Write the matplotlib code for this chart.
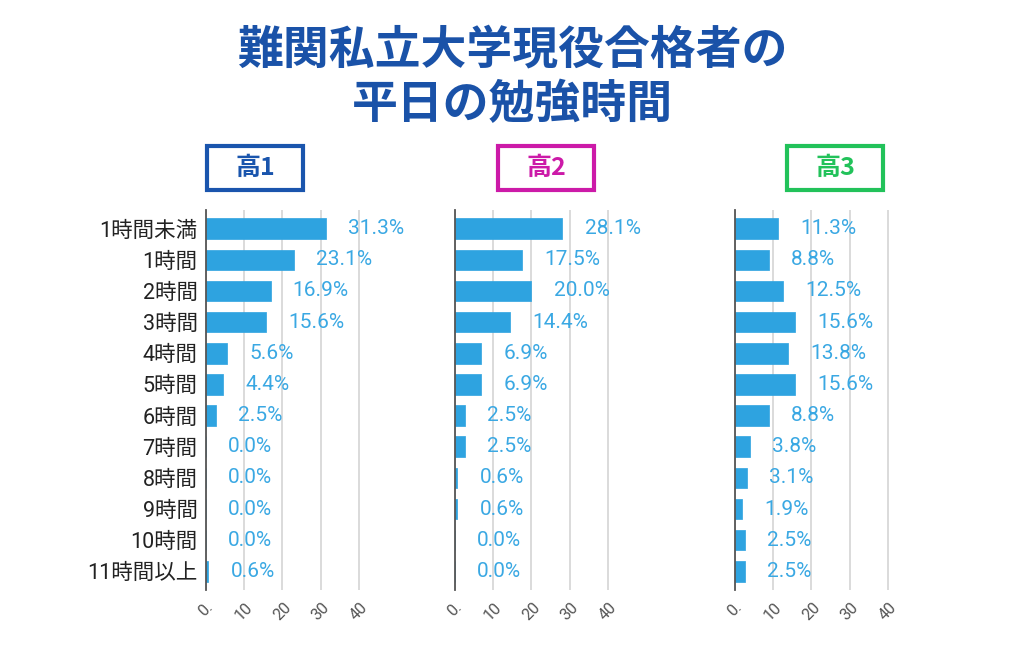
import matplotlib.pyplot as plt
from matplotlib.patches import Rectangle

plt.rcParams['font.family'] = ['Roboto', 'Noto Sans CJK JP', 'DejaVu Sans']

# data
categories = ['1時間未満', '1時間', '2時間', '3時間', '4時間', '5時間',
              '6時間', '7時間', '8時間', '9時間', '10時間', '11時間以上']
grade1 = [31.3, 23.1, 16.9, 15.6, 5.6, 4.4, 2.5, 0.0, 0.0, 0.0, 0.0, 0.6]
grade2 = [28.1, 17.5, 20.0, 14.4, 6.9, 6.9, 2.5, 2.5, 0.6, 0.6, 0.0, 0.0]
grade3 = [11.3, 8.8, 12.5, 15.6, 13.8, 15.6, 8.8, 3.8, 3.1, 1.9, 2.5, 2.5]
panel_titles = ['高1', '高2', '高3']
panel_colors = ['#1a55ad', '#cc1aa8', '#22c25a']
x_ticks = [0, 10, 20, 30, 40]
x_ticklabels = ['0.', '10', '20', '30', '40']

bar_color = '#2ea3e0'
label_color = '#3aa8e3'
title_color = '#1a52a8'

W, H = 1024, 666
fig = plt.figure(figsize=(W / 100, H / 100), dpi=100)

fig.text(0.5, 1 - 50 / H, '難関私立大学現役合格者の', ha='center', va='center',
         fontsize=33, fontweight='bold', color=title_color,
         family=['Noto Sans CJK JP'])
fig.text(0.5, 1 - 105 / H, '平日の勉強時間', ha='center', va='center',
         fontsize=33, fontweight='bold', color=title_color,
         family=['Noto Sans CJK JP'])

lefts = [206, 455, 735]
box_lefts = [207, 498, 787]
data = [grade1, grade2, grade3]
top, bottom = 210, 590
pw = 154

for i in range(3):
    ax = fig.add_axes([lefts[i] / W, 1 - bottom / H, pw / W, (bottom - top) / H])
    y = list(range(len(categories)))
    ax.barh(y, data[i], height=0.66, color=bar_color, edgecolor=bar_color,
            linewidth=0.5, joinstyle='round', zorder=3)
    for yy, v in zip(y, data[i]):
        ax.annotate(f'{v:.1f}%', xy=(v, yy), xytext=(16, 0),
                    textcoords='offset points', ha='left', va='center',
                    fontsize=15, color=label_color, annotation_clip=False)
    ax.set_xlim(0, 40.3)
    ax.set_ylim(11.6, -0.6)
    ax.set_xticks(x_ticks)
    ax.set_xticklabels(x_ticklabels, rotation=45, ha='center', va='top',
                       color='#555555', fontsize=11.5)
    ax.tick_params(axis='x', length=0, pad=7)
    ax.grid(axis='x', color='#d4d4d4', linewidth=1.2, zorder=0)
    for s in ['top', 'right', 'bottom']:
        ax.spines[s].set_visible(False)
    ax.spines['left'].set_color('#555555')
    ax.spines['left'].set_linewidth(1.3)
    ax.spines['left'].set_zorder(4)
    ax.set_yticks(y)
    if i == 0:
        ax.set_yticklabels(categories, fontsize=15.5, color='#222222',
                           family=['Roboto', 'Noto Sans CJK JP'])
        ax.tick_params(axis='y', length=0, pad=6)
    else:
        ax.set_yticklabels([])
        ax.tick_params(axis='y', length=0)

    # header box
    bx = box_lefts[i]
    fig.patches.append(Rectangle((bx / W, 1 - 190 / H), 96 / W, 44 / H,
                                 transform=fig.transFigure, fill=False,
                                 edgecolor=panel_colors[i], linewidth=3))
    fig.text((bx + 48) / W, 1 - 168 / H, panel_titles[i], ha='center',
             va='center', fontsize=18, fontweight='bold',
             color=panel_colors[i], family=['Noto Sans CJK JP'])

fig.savefig('out.png', dpi=100)
